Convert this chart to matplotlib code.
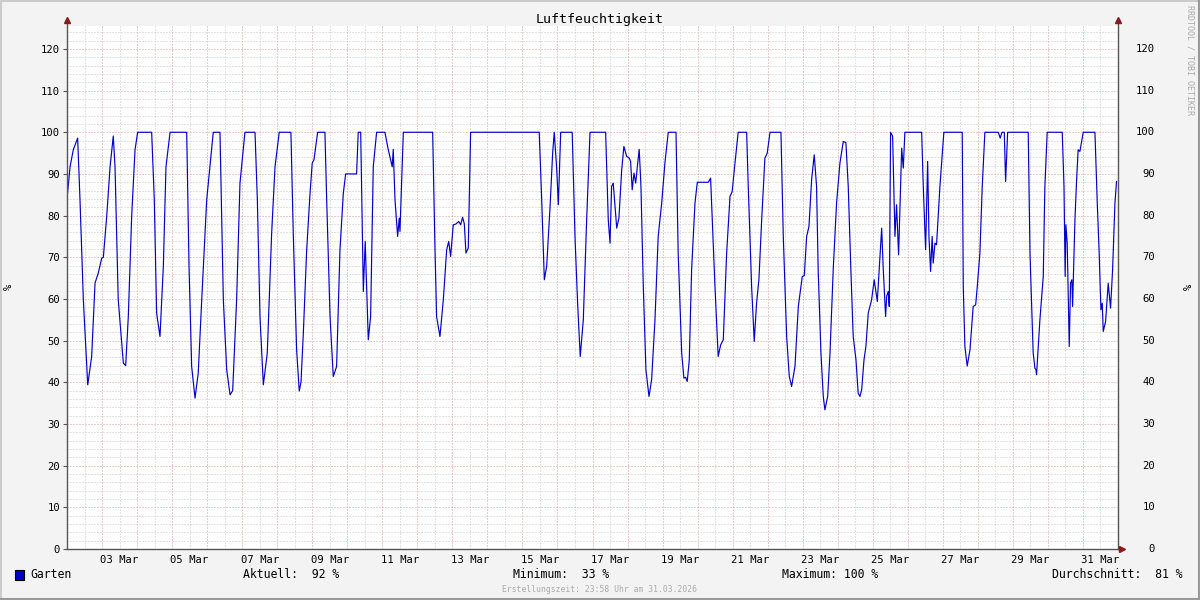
#!/usr/bin/env python3
from datetime import datetime, timedelta
import matplotlib
matplotlib.use("Agg")
import matplotlib.pyplot as plt
from matplotlib.patches import Rectangle
from matplotlib.lines import Line2D
import matplotlib.transforms as mtransforms

# hours since 02 Mar 2026 00:00, relative humidity in %
hours = [
    0.0, 2.1, 4.3, 7.3, 8.9, 11.2, 14.2, 16.9, 19.2, 21.4, 23.8, 24.9, 27.2, 29.5, 31.7, 32.9,
    35.1, 38.6, 40.2, 42.0, 44.3, 46.6, 48.4, 58.0, 59.8, 61.4, 63.7, 66.0, 67.8, 70.6, 82.0,
    83.6, 85.4, 87.7, 89.9, 92.3, 95.7, 100.2, 104.8, 107.1, 109.4, 111.7, 113.5, 116.2, 118.5,
    121.9, 128.8, 130.4, 132.2, 134.5, 137.2, 140.2, 142.5, 145.4, 153.4, 155.0, 157.3, 159.1,
    160.3, 161.9, 164.2, 166.5, 168.0, 169.2, 171.7, 176.7, 177.9, 180.2, 182.4, 184.7, 187.0,
    189.3, 190.9, 198.4, 199.5, 201.2, 203.0, 204.3, 206.4, 208.0, 209.8, 212.1, 217.8, 220.1,
    222.8, 223.5, 224.7, 226.5, 227.6, 228.1, 230.4, 250.5, 252.1, 253.2, 255.5, 257.8, 260.1,
    261.5, 262.8, 264.6, 266.5, 268.3, 269.7, 271.0, 272.2, 273.3, 274.9, 276.5, 323.5, 325.2,
    327.0, 328.6, 330.9, 332.7, 333.8, 335.5, 336.6, 338.2, 346.1, 348.0, 349.8, 351.6, 353.7,
    356.0, 358.3, 369.0, 370.8, 372.0, 373.1, 374.2, 376.6, 378.1, 380.0, 381.5, 383.4, 385.2,
    386.1, 387.2, 388.4, 389.6, 390.7, 392.0, 393.2, 394.8, 396.6, 398.7, 400.5, 402.8, 405.0,
    407.4, 409.6, 411.9, 417.2, 418.7, 421.1, 422.6, 423.8, 424.9, 426.3, 427.9, 430.2, 431.8,
    439.3, 440.9, 441.6, 443.9, 446.1, 447.8, 449.6, 451.9, 454.2, 455.7, 457.6, 459.8, 465.6,
    466.7, 469.0, 470.8, 472.4, 474.0, 475.9, 478.1, 479.7, 481.6, 489.1, 490.7, 493.0, 494.8,
    496.4, 498.7, 501.0, 502.8, 503.7, 505.1, 506.7, 508.3, 510.1, 511.9, 513.5, 514.6, 516.5,
    518.1, 519.2, 521.1, 522.7, 524.9, 527.2, 529.5, 531.8, 533.6, 535.2, 537.0, 538.6, 540.5,
    542.0, 543.2, 544.4, 546.0, 547.3, 548.9, 551.2, 553.0, 555.1, 556.4, 558.1, 559.2, 560.8,
    561.5, 562.6, 563.3, 564.2, 565.6, 567.2, 568.3, 569.7, 571.8, 572.9, 574.0, 585.5, 586.6,
    588.2, 589.6, 590.5, 591.6, 592.7, 593.4, 594.6, 595.7, 598.0, 600.7, 613.3, 614.0, 615.1,
    616.7, 618.6, 620.8, 622.5, 623.6, 625.4, 627.0, 628.8, 638.0, 639.3, 640.5, 642.1, 643.0,
    644.4, 658.5, 659.7, 661.9, 663.1, 663.8, 664.2, 666.5, 668.8, 669.9, 671.5, 681.8, 683.0,
    683.8, 684.3, 685.2, 686.6, 687.5, 688.4, 688.9, 690.5, 691.6, 692.7, 693.9, 695.1, 696.2,
    704.2, 705.8, 707.1, 708.3, 709.2, 709.9, 711.5, 713.3, 714.9, 716.3, 717.9, 719.0,
]
humidity = [
    84, 91.7, 95.8, 98.6, 83.8, 59.8, 39.4, 46.2, 63.8, 66.2, 69.8, 70, 79.8, 91.7, 99.1, 91.7,
    59.8, 44.6, 44, 55.8, 79.8, 95.8, 100, 100, 83.8, 56.6, 51, 67.8, 91.7, 100, 100,
    67.8, 43.8, 36.2, 42.2, 59.8, 83.8, 100, 100, 59.8, 43, 37, 38, 59.8, 87.8,
    100, 100, 83.8, 55.8, 39.4, 47, 75.8, 91.7, 100, 100, 75.8, 47.8, 37.9,
    40, 51.8, 71.8, 85.4, 92.6, 93.4, 100, 100, 83.8, 55.8, 41.4, 43.8, 71.8,
    85.4, 90, 90, 100, 100, 61.8, 73.8, 50.2, 55.8, 91.7, 100, 100, 95.8,
    91.7, 95.9, 83.8, 75, 79.4, 76.2, 100, 100, 71.8, 55.8, 51, 59.8, 71.8,
    73.8, 70.2, 77.8, 78, 78.6, 77.8, 79.6, 78, 71, 72.2, 100, 100, 83.8,
    64.6, 67.8, 82, 95, 100, 91, 82.6, 100, 100, 75, 59, 46.2, 55,
    79, 100, 100, 79, 73.4, 87, 87.8, 77, 79.4, 91, 96.6, 94.2, 93.8,
    93, 86.2, 90.2, 87.8, 91.7, 95.9, 87, 63, 43, 36.6, 40.6, 55, 75,
    83, 92.6, 100, 100, 71, 47, 41, 41.2, 40.2, 45.4, 67, 83, 88,
    88, 89, 83, 63, 46.2, 49, 50.2, 71, 84.6, 85.8, 92.6, 100, 100,
    87, 63, 49.8, 59, 64.6, 79, 93.8, 95, 100, 100, 75, 51, 41.4,
    39, 43.8, 58.2, 63, 65.4, 65.6, 75, 77.4, 88.6, 94.6, 87, 67, 47,
    36.6, 33.4, 36.6, 47, 67, 83, 92.6, 97.8, 97.5, 87, 67, 51, 45.4,
    37.4, 36.6, 38.2, 45.4, 48.6, 56.6, 59.8, 64.6, 59.4, 67, 77, 67, 55.8,
    60.6, 61.8, 58.2, 100, 99, 75, 82.6, 70.6, 96.2, 91.4, 100, 100, 87,
    71.8, 93, 75, 66.6, 75, 68.6, 73.4, 73, 87, 100, 100, 63, 48.6,
    43.9, 47.8, 58.2, 58.6, 63, 71, 87, 100, 100, 98.6, 100, 100, 88.2,
    100, 100, 71, 47, 43.4, 43, 41.8, 55, 65.4, 87, 100, 100, 87,
    65.4, 77.8, 73.4, 48.6, 63.8, 64.6, 58.2, 79, 88.2, 95.8, 95.4, 97.8, 100,
    100, 83, 71, 57.4, 59, 52.2, 54.6, 63.8, 57.8, 67, 83, 88.2,
]

series_name = "Garten"
title = "Luftfeuchtigkeit"
unit = "%"
stats = [("Aktuell:", " 92 %"), ("Minimum:", " 33 %"), ("Maximum:", "100 %"), ("Durchschnitt:", " 81 %")]
footer = "Erstellungszeit: 23:58 Uhr am 31.03.2026"
start = datetime(2026, 3, 2)
n_days = 30
y_top = 125.5

mono = "DejaVu Sans Mono"
W, H = 1200, 600

fig = plt.figure(figsize=(12, 6), dpi=100, facecolor="#F3F3F3")

# plot area in pixel terms
x0, x1, ybot, ytop = 67, 1118, 549, 26
ax = fig.add_axes([x0 / W, 1 - ybot / H, (x1 - x0) / W, (ybot - ytop) / H])
ax.set_facecolor("white")

days = [h / 24.0 for h in hours]
ax.set_xlim(0, n_days)
ax.set_ylim(0, y_top)

# grid: minor grey, major red, both dotted
dot = (0, (1, 2))
minor_col, major_col = "#C8C8C8", "#E09A9A"
for d in range(1, n_days * 2):
    v = d / 2.0
    col = major_col if d % 2 == 0 else minor_col
    ax.axvline(v, color=col, lw=0.72, ls=dot, zorder=1)
for v in range(2, 126, 2):
    col = major_col if v % 10 == 0 else minor_col
    ax.axhline(v, color=col, lw=0.72, ls=dot, zorder=1)

ax.plot(days, humidity, color="#0000CC", lw=0.85, zorder=3, solid_joinstyle="round")

for s in ax.spines.values():
    s.set_visible(False)

axis_col = "#555555"
arrow_col = "#8B1A1A"
ax.plot([0, 0], [0, 1.01], transform=ax.transAxes, color=axis_col, lw=1.0, clip_on=False, zorder=4)
ax.plot([1, 1], [0, 1.01], transform=ax.transAxes, color=axis_col, lw=1.0, clip_on=False, zorder=4)
ax.plot([0, 1.003], [0, 0], transform=ax.transAxes, color=axis_col, lw=1.0, clip_on=False, zorder=4)
ax.plot([0], [1.012], marker="^", ms=5, color=arrow_col, transform=ax.transAxes, clip_on=False, zorder=5)
ax.plot([1], [1.012], marker="^", ms=5, color=arrow_col, transform=ax.transAxes, clip_on=False, zorder=5)
ax.plot([1.004], [0], marker=">", ms=5, color=arrow_col, transform=ax.transAxes, clip_on=False, zorder=5)

# x labels centred at noon of odd days
label_pos = [d + 0.5 for d in range(1, n_days, 2)]
ax.set_xticks(label_pos)
ax.set_xticklabels([(start + timedelta(days=p)).strftime("%d %b") for p in label_pos],
                   fontfamily=mono, fontsize=7.6)
ax.tick_params(axis="x", length=0, pad=4)

yticks = list(range(0, 121, 10))
ax.set_yticks(yticks)
ax.set_yticklabels([str(v) for v in yticks], fontfamily=mono, fontsize=7.6)
ax.tick_params(axis="y", length=3, width=0.8, color=axis_col, pad=2)

# right axis labels
trans = mtransforms.blended_transform_factory(fig.transFigure, ax.transData)
for v in yticks:
    fig.text(1155 / W, v, str(v), transform=trans, ha="right", va="center",
             fontfamily=mono, fontsize=7.6)

fig.text(0.5, 1 - 19 / H, title, ha="center", va="center", fontfamily=mono, fontsize=9.5)
fig.text(9 / W, 1 - 287 / H, unit, rotation=90, ha="center", va="center", fontfamily=mono, fontsize=7.6)
fig.text(1189 / W, 1 - 287 / H, unit, rotation=90, ha="center", va="center", fontfamily=mono, fontsize=7.6)
fig.text(1190 / W, 1 - 5 / H, "RRDTOOL / TOBI OETIKER", rotation=-90, ha="center", va="top",
         fontfamily=mono, fontsize=6, color="#AAAAAA")

# legend row
fig.patches.append(Rectangle((15 / W, 1 - 580 / H), 9 / W, 10 / H, transform=fig.transFigure,
                             facecolor="#0000CC", edgecolor="black", lw=0.8))
fig.text(30 / W, 1 - 575 / H, series_name, ha="left", va="center", fontfamily=mono, fontsize=8.3)
stat_x = [243, 513, 782]
for (lab, val), sx in zip(stats[:3], stat_x):
    fig.text(sx / W, 1 - 575 / H, f"{lab} {val}", ha="left", va="center", fontfamily=mono, fontsize=8.3)
lab, val = stats[3]
fig.text(1183 / W, 1 - 575 / H, f"{lab} {val}", ha="right", va="center", fontfamily=mono, fontsize=8.3)
fig.text(0.5, 1 - 589 / H, footer, ha="center", va="center", fontfamily=mono, fontsize=5.8, color="#AAAAAA")

# shaded frame
fig.add_artist(Line2D([0, 1], [1 - 1 / H, 1 - 1 / H], transform=fig.transFigure, color="#CBCBCB", lw=1.5))
fig.add_artist(Line2D([1 / W, 1 / W], [0, 1], transform=fig.transFigure, color="#CBCBCB", lw=1.5))
fig.add_artist(Line2D([0, 1], [1 / H, 1 / H], transform=fig.transFigure, color="#999999", lw=1.5))
fig.add_artist(Line2D([1 - 1 / W, 1 - 1 / W], [0, 1], transform=fig.transFigure, color="#999999", lw=1.5))

fig.savefig("out.png", dpi=100, facecolor=fig.get_facecolor())
